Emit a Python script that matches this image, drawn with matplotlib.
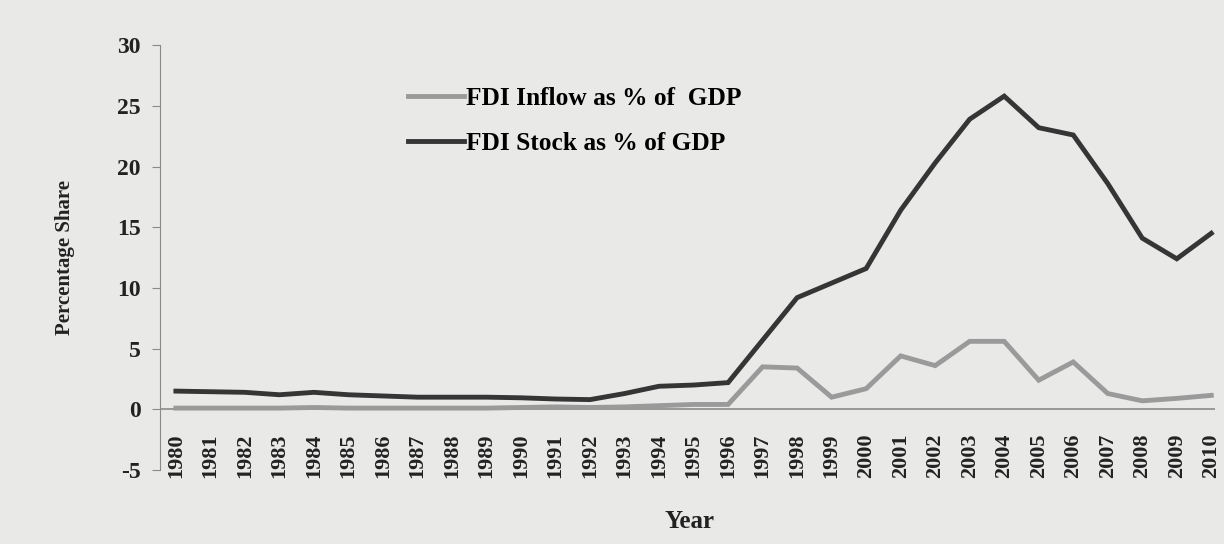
import numpy as np
import matplotlib
matplotlib.use("Agg")
import matplotlib.pyplot as plt

# data
years = list(range(1980, 2011))
fdi_inflow = [0.1, 0.1, 0.1, 0.1, 0.15, 0.1, 0.1, 0.1, 0.1, 0.1, 0.15, 0.2, 0.15,
              0.2, 0.3, 0.4, 0.4, 3.5, 3.4, 1.0, 1.7, 4.4, 3.6, 5.6, 5.6, 2.4,
              3.9, 1.3, 0.7, 0.9, 1.15]
fdi_stock = [1.5, 1.45, 1.4, 1.2, 1.4, 1.2, 1.1, 1.0, 1.0, 1.0, 0.95, 0.85, 0.8,
             1.3, 1.9, 2.0, 2.2, 5.7, 9.2, 10.4, 11.6, 16.4, 20.3, 23.9, 25.8,
             23.2, 22.6, 18.6, 14.1, 12.4, 14.5]
yticks = [-5, 0, 5, 10, 15, 20, 25, 30]

plt.rcParams['font.family'] = ['Liberation Serif', 'DejaVu Serif']
bg = '#e9eae8'

fig = plt.figure(figsize=(12.24, 5.44), dpi=100, facecolor=bg)
ax = fig.add_axes([0.131, 0.136, 0.862, 0.781], facecolor=bg)

ax.plot(years, fdi_inflow, color='#9a9a9a', lw=3.5, label='FDI Inflow as % of  GDP',
        solid_joinstyle='miter')
ax.plot(years, fdi_stock, color='#353535', lw=3.5, label='FDI Stock as % of GDP',
        solid_joinstyle='miter')

ax.set_ylim(-5, 30)
ax.set_xlim(1979.55, 2010.12)
ax.set_yticks(yticks)
ax.set_yticklabels([str(v) for v in yticks], fontsize=17, fontweight='bold', color='#222')

ax.axhline(0, color='#8a8a8a', lw=1.2, zorder=0)
for s in ['top', 'right']:
    ax.spines[s].set_visible(False)
ax.spines['left'].set_color('#8a8a8a')
ax.spines['bottom'].set_visible(False)
ax.tick_params(axis='y', length=6, color='#8a8a8a', pad=8)

ax.set_xticks(years)
ax.set_xticklabels([str(y) for y in years], rotation=90, fontsize=16,
                   fontweight='bold', color='#222')
ax.tick_params(axis='x', length=0, pad=-26.5)
for lab in ax.get_xticklabels():
    lab.set_va('top')

ax.set_xlabel('Year', fontsize=18, fontweight='bold', color='#222')
ax.xaxis.set_label_coords(0.502, -0.095)
ax.set_ylabel('Percentage Share', fontsize=15, fontweight='bold', color='#222')
ax.yaxis.set_label_coords(-0.081, 0.5)

ax.legend(loc='upper left', bbox_to_anchor=(408 / 1224, 1 - 87 / 544),
          bbox_transform=fig.transFigure, frameon=False,
          handlelength=2.2, handletextpad=0.1, labelspacing=0.85, borderpad=0,
          borderaxespad=0, prop={'weight': 'bold', 'size': 18.3})

fig.savefig('out.png', dpi=100, facecolor=bg)
